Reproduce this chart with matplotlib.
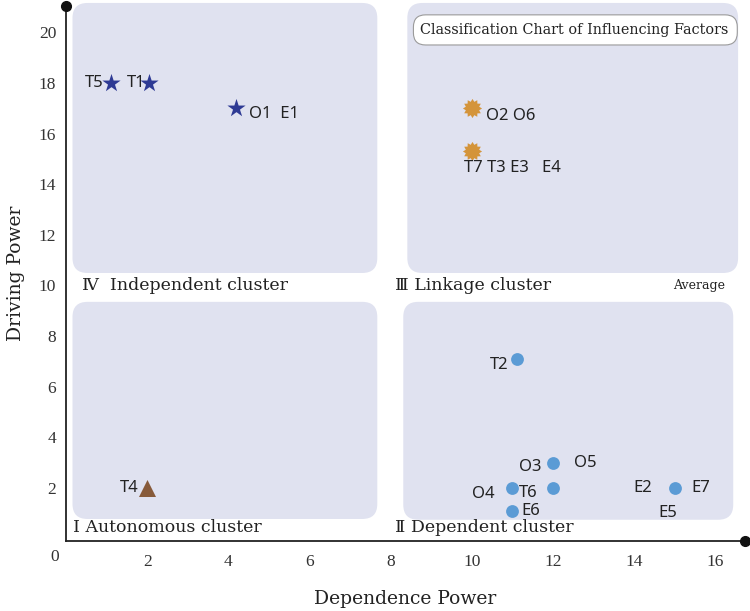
import matplotlib
matplotlib.use("Agg")
import matplotlib.pyplot as plt
from matplotlib.patches import FancyBboxPatch
import numpy as np

# dependence power (x) / driving power (y) of each marker
star_x = [1.1, 2.05, 4.2]
star_y = [18, 18, 17]

burst_x = [10, 10]
burst_y = [17, 15.3]

tri_x = [2]
tri_y = [2]

dot_x = [11.1, 12, 11, 12, 11, 15]
dot_y = [7.1, 3, 2, 2, 1.1, 2]

x_ticks = [2, 4, 6, 8, 10, 12, 14, 16]
y_ticks = [2, 4, 6, 8, 10, 12, 14, 16, 18, 20]

# factor names hung on the markers: text, anchor (x, y)
names = ["T5", "T1", "O1  E1", "O2 O6", "T7 T3 E3   E4", "T4",
         "T2", "O3", "O5", "O4", "T6", "E6", "E2", "E7", "E5"]
anchor_x = [1.1, 2.05, 4.2, 10, 10, 2, 11.1, 12, 12, 11, 11, 11, 15, 15, 15]
anchor_y = [18, 18, 17, 17, 15.3, 2, 7.1, 3, 3, 2, 2, 1.1, 2, 2, 2]
# offsets in pixels and alignment
offsets = [(-7, 0, "right"), (-4, 0, "right"), (13, -6, "left"), (14, -8, "left"),
           (-8, -17, "left"), (-9, 0, "right"), (-8, -6, "right"), (-12, -4, "right"),
           (21, 0, "left"), (-18, -6, "right"), (6, -5, "left"), (9, 0, "left"),
           (-23, 0, "right"), (17, 0, "left"), (2, -25, "right")]

panel_col = "#e0e2f0"
serif = ["DejaVu Serif", "DejaVu Sans", "Noto Sans CJK SC"]

fig = plt.figure(figsize=(7.5, 6.11), dpi=100)
ax = fig.add_axes([66 / 750, 70 / 611, 679 / 750, 535 / 611])
ax.set_xlim(0, 16.73)
ax.set_ylim(-0.1, 21.04)

# rounded background panels for the four clusters
aspect = 40.6 / 25.31
panels = [(0.16, 10.49, 7.51, 10.67), (8.41, 10.49, 8.15, 10.67),
          (0.16, 0.77, 7.51, 8.58), (8.31, 0.74, 8.13, 8.61)]
for (x0, y0, w, h) in panels:
    ax.add_patch(FancyBboxPatch((x0, y0), w, h, boxstyle="round,pad=0,rounding_size=0.37",
                                mutation_aspect=aspect, fc=panel_col, ec="none",
                                clip_on=False, zorder=0))

# title box
ax.add_patch(FancyBboxPatch((8.56, 19.5), 7.98, 1.19, boxstyle="round,pad=0,rounding_size=0.3",
                            mutation_aspect=aspect, fc="white", ec="#9a9a9a", lw=0.8,
                            clip_on=False, zorder=1))
ax.text(8.72, 20.1, "Classification Chart of Influencing Factors", family=serif,
        fontsize=10.4, va="center", ha="left", color="#222222", zorder=2)

# burst marker with 12 points
n = 12
ang = np.linspace(0, 2 * np.pi, 2 * n, endpoint=False) + np.pi / 2
rad = np.where(np.arange(2 * n) % 2 == 0, 1.0, 0.72)
burst = list(zip(rad * np.cos(ang), rad * np.sin(ang)))

ax.scatter(star_x, star_y, marker="*", s=190, color="#2e3a94", zorder=3, linewidths=0)
ax.scatter(burst_x, burst_y, marker=burst, s=190, color="#d4943a", zorder=3, linewidths=0)
ax.scatter(tri_x, tri_y, marker="^", s=150, color="#875a3a", zorder=3, linewidths=0)
ax.scatter(dot_x, dot_y, marker="o", s=85, color="#5b9bd5", zorder=3, linewidths=0)

for t, x, y, (dx, dy, ha) in zip(names, anchor_x, anchor_y, offsets):
    ax.annotate(t, (x, y), xytext=(dx, dy), textcoords="offset pixels", ha=ha,
                va="center", fontsize=12, family="Noto Sans", color="#222222", zorder=4)

# cluster names
ax.text(0.4, 10.0, "\u2163  Independent cluster", family=serif, fontsize=12.5,
        va="center", color="#222222")
ax.text(8.10, 10.0, "\u2162 Linkage cluster", family=serif, fontsize=12.5,
        va="center", color="#222222")
ax.text(16.25, 10.0, "Average", family=serif, fontsize=9, ha="right",
        va="center", color="#222222")
ax.text(0.18, 0.45, "\u2160 Autonomous cluster", family=serif, fontsize=12.5,
        va="center", color="#222222")
ax.text(8.10, 0.45, "\u2161 Dependent cluster", family=serif, fontsize=12.5,
        va="center", color="#222222")

for s in ["top", "right"]:
    ax.spines[s].set_visible(False)
for s in ["left", "bottom"]:
    ax.spines[s].set_color("#222222")
    ax.spines[s].set_linewidth(1.3)
ax.plot([0], [21.04], "o", ms=7, color="#111111", clip_on=False, zorder=5)
ax.plot([16.73], [-0.1], "o", ms=7, color="#111111", clip_on=False, zorder=5)

ax.set_xticks(x_ticks)
ax.set_yticks(y_ticks)
ax.tick_params(length=0, labelsize=12.5, colors="#333333")
ax.tick_params(axis="x", pad=9)
ax.tick_params(axis="y", pad=7)
for lab in ax.get_xticklabels() + ax.get_yticklabels():
    lab.set_family("Liberation Serif")
ax.text(-0.27, -0.75, "0", family="Liberation Serif", fontsize=12.5, color="#333333",
        ha="center", va="center", clip_on=False)

ax.set_xlabel("Dependence Power", family=serif, fontsize=13.5, labelpad=15, color="#222222")
ax.set_ylabel("Driving Power", family=serif, fontsize=13.5, labelpad=10, color="#222222")

plt.savefig("out.png", dpi=100)
